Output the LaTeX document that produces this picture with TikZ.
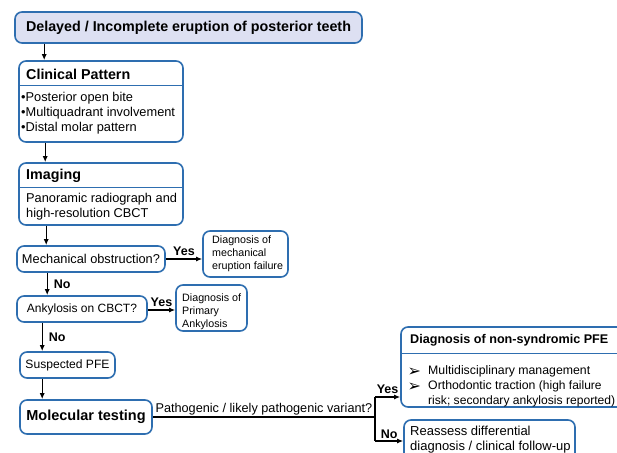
\documentclass[tikz,border=0pt]{standalone}
\usepackage{fontspec}
\setmainfont{Liberation Sans}
\newfontfamily\symfont{DejaVu Sans}
\usetikzlibrary{arrows.meta}
\definecolor{boxblue}{RGB}{46,110,176}
\definecolor{titlefill}{RGB}{221,224,242}
\newcommand{\bodyfont}{\fontsize{12.8}{15}\selectfont}
\newcommand{\smallfont}{\fontsize{10.7}{13}\selectfont}
\newcommand{\hdrfont}{\fontsize{14.3}{16}\selectfont\bfseries}
\begin{document}
\begin{tikzpicture}[x=1pt,y=-1pt]
  \tikzstyle{box}=[draw=boxblue,line width=1.6pt,rounded corners=7pt,fill=white,inner sep=0pt]
  \tikzstyle{txt}=[inner sep=0pt,align=left,anchor=west]
  \tikzstyle{sep}=[draw=boxblue,line width=1.3pt]
  \tikzstyle{edge}=[draw,line width=1.3pt,-{Latex[length=6pt,width=5pt]}]
  \tikzstyle{lbl}=[font=\fontsize{12.5}{14}\selectfont\bfseries,inner sep=0pt]
  \useasboundingbox (0,0) rectangle (617,452);
  \clip (0,0) rectangle (617,452);
  % boxes of the main column
  \node[box,fill=titlefill,minimum width=347pt,minimum height=31pt,font=\hdrfont] (top) at (188.5,27.5) {Delayed / Incomplete eruption of posterior teeth};
  \node[box,minimum width=164pt,minimum height=81pt] (clin) at (101,101.5) {};
  \node[txt,font=\hdrfont] (clinhd) at (26,74) {Clinical Pattern};
  \path[sep] ([yshift=-25pt]clin.north west) -- ([yshift=-25pt]clin.north east);
  \node[txt,font=\bodyfont] (clinbody) at (21,113) {•Posterior open bite\\•Multiquadrant involvement\\•Distal molar pattern};
  \node[box,minimum width=164pt,minimum height=62pt] (img) at (101,194) {};
  \node[txt,font=\hdrfont] (imghd) at (26,175.5) {Imaging};
  \path[sep] ([yshift=-25pt]img.north west) -- ([yshift=-25pt]img.north east);
  \node[txt,font=\bodyfont] (imgbody) at (26,206.5) {Panoramic radiograph and\\high-resolution CBCT};
  \node[box,minimum width=148pt,minimum height=26pt,font=\bodyfont] (mech) at (91,259) {Mechanical obstruction?};
  \node[box,minimum width=85pt,minimum height=46pt] (mechdx) at (245.5,254) {};
  \node[txt,font=\smallfont] (mechtxt) at (212,253.5) {Diagnosis of\\mechanical\\eruption failure};
  \node[box,minimum width=130pt,minimum height=26pt,font=\fontsize{12}{14}\selectfont] (ank) at (82,309) {Ankylosis on CBCT?};
  \node[box,minimum width=71pt,minimum height=46pt] (ankdx) at (211.5,308) {};
  \node[txt,font=\smallfont] (anktxt) at (182,311.5) {Diagnosis of\\Primary\\Ankylosis};
  \node[box,minimum width=95pt,minimum height=26pt,font=\fontsize{12.1}{14}\selectfont] (sus) at (67.5,365) {Suspected PFE};
  \node[box,minimum width=132pt,minimum height=34pt,font=\fontsize{14.5}{16}\selectfont\bfseries] (mol) at (86,417) {Molecular testing};
  % outcome boxes
  \node[box,minimum width=227pt,minimum height=80pt] (ns) at (514.5,367) {};
  \node[txt,font=\fontsize{12.6}{14}\selectfont\bfseries] (nshd) at (410,340) {Diagnosis of non-syndromic PFE};
  \path[sep] ([yshift=-27pt]ns.north west) -- ([yshift=-27pt]ns.north east);
  \node[txt,font=\fontsize{16}{15}\selectfont\symfont] (nsbul) at (407.5,379.5) {➢\\➢};
  \node[txt,font=\fontsize{12.3}{15}\selectfont] (nsbody) at (428,386.5) {Multidisciplinary management\\Orthodontic traction {\fontsize{12}{15}\selectfont(high failure}\\{\fontsize{12.1}{15}\selectfont risk; secondary ankylosis reported)}};
  \node[box,minimum width=171pt,minimum height=45pt] (re) at (489.5,442.5) {};
  \node[txt,font=\fontsize{13}{15}\selectfont] (retxt) at (410,439.5) {Reassess differential\\diagnosis / clinical follow-up};
  % connectors
  \path[edge] ([xshift=30pt]top.south west) -- ([xshift=30pt]top.south west |- clin.north);
  \path[edge] ([xshift=27pt]clin.south west) -- ([xshift=27pt]clin.south west |- img.north);
  \path[edge] ([xshift=28pt]img.south west) -- ([xshift=28pt]img.south west |- mech.north);
  \path[edge] (mech.east) -- (mech.east -| mechdx.west) node[lbl,midway,above=2.5pt] {Yes};
  \path[edge] ([xshift=31pt]mech.south west) -- ([xshift=31pt]mech.south west |- ank.north) node[lbl,midway,right=6pt] {No};
  \path[edge] ([yshift=-1pt]ank.east) -- ([yshift=-1pt]ank.east -| ankdx.west) node[lbl,midway,above=2.5pt] {Yes};
  \path[edge] ([xshift=26pt]ank.south west) -- ([xshift=26pt]ank.south west |- sus.north) node[lbl,midway,right=6pt] {No};
  \path[edge] ([xshift=23pt]sus.south west) -- ([xshift=23pt]sus.south west |- mol.north);
  \coordinate (br) at (375,417);
  \coordinate (byes) at (375,397);
  \coordinate (bno) at (375,441);
  \draw[line width=1.3pt] (mol.east) -- (br) node[midway,above=1pt,inner sep=0pt,font=\fontsize{12.7}{14}\selectfont] {Pathogenic / likely pathogenic variant?};
  \draw[line width=1.3pt] (byes) -- (bno);
  \path[edge] (byes) -- (byes -| ns.west) node[lbl,midway,above=2.5pt] {Yes};
  \path[edge] (bno) -- (bno -| re.west) node[lbl,midway,above=1.5pt] {No};
\end{tikzpicture}
\end{document}
